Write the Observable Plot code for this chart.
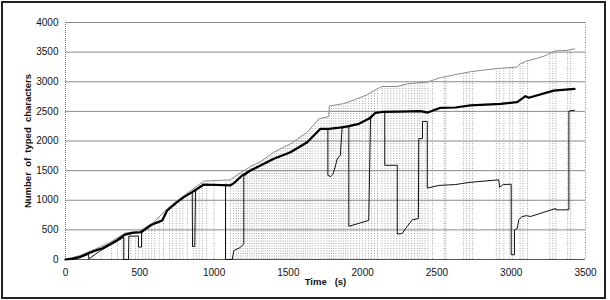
<!DOCTYPE html>
<html>
<head>
<meta charset="utf-8">
<script src="https://cdn.jsdelivr.net/npm/d3@7"></script>
<script src="https://cdn.jsdelivr.net/npm/@observablehq/plot@0.6"></script>
<style>
  html, body { margin: 0; padding: 0; background: #fff; }
  #wrap { position: relative; width: 610px; height: 300px; }
  #border { position: absolute; left: 1px; top: 1px; width: 601px; height: 294px; border: 2px solid #222; pointer-events: none; }
</style>
</head>
<body>
<div id="wrap"><div id="border"></div></div>
<script>
// Tick labels
const xTicks = [0, 500, 1000, 1500, 2000, 2500, 3000, 3500];
const yTicks = [0, 500, 1000, 1500, 2000, 2500, 3000, 3500, 4000];

// Series A: total typed characters (grey thin line)
const timeA = [0,100,200,300,400,500,600,684,800,931,1110,1133,1245,1312,1402,1514,1627,1705,1772,1776,1870,1950,2030,2086,2131,2232,2300,2435,2524,2726,2928,3040,3060,3096,3219,3298,3376,3426];
const valueA = [0,70,175,290,445,480,640,860,1085,1322,1345,1390,1570,1650,1811,1952,2149,2374,2413,2590,2630,2700,2780,2864,2920,2920,2965,2995,3070,3170,3229,3246,3303,3342,3430,3520,3530,3556];

// Series B: text length (thick black line)
const timeB = [0,50,100,150,200,250,300,350,400,450,505,530,572,600,651,684,751,796,852,931,1110,1133,1189,1245,1312,1402,1514,1627,1716,1772,1830,1907,1975,2041,2086,2130,2250,2389,2440,2490,2524,2624,2726,2928,3040,3096,3118,3286,3426];
const valueB = [0,15,45,100,150,190,260,330,420,450,460,500,574,610,658,827,967,1052,1137,1266,1250,1288,1418,1502,1587,1700,1811,1980,2206,2206,2220,2250,2290,2374,2475,2490,2495,2505,2480,2530,2560,2565,2600,2628,2655,2757,2729,2850,2881];

// Series C: cursor position (thin black line)
const timeC = [0,50,100,150,155,157,235,300,350,392,392,424,426,491,491,512,512,530,560,600,650,684,750,800,853,855,870,875,930,1077,1077,1122,1133,1178,1200,1200,1245,1312,1402,1514,1627,1716,1766,1766,1785,1800,1815,1829,1850,1862,1907,1907,2041,2053,2086,2149,2149,2233,2233,2266,2300,2334,2375,2378,2403,2403,2435,2435,2512,2624,2714,2916,2922,2947,3000,3000,3022,3022,3040,3051,3070,3100,3130,3298,3300,3388,3388,3426];
const valueC = [0,10,35,80,95,10,150,240,310,375,0,0,395,395,210,210,450,480,560,600,650,827,967,1052,1130,220,220,1160,1255,1250,0,0,150,205,265,1400,1495,1580,1695,1805,1975,2200,2200,1420,1400,1440,1560,1700,1760,2220,2245,560,660,2370,2475,2485,1590,1590,430,440,560,670,690,2040,2040,2330,2330,1205,1250,1265,1300,1345,1220,1266,1270,80,80,500,520,670,720,740,726,860,838,838,2505,2520];

// Times of cursor jumps / revisions (dotted verticals)
const revisionTimes = [180,240,310,350,380,400,440,470,490,520,540,560,580,600,630,660,700,720,745,770,790,820,860,880,900,920,950,1000,1080,1110,1130,1150,1165,1180,1195,1210,1225,1240,1255,1270,1285,1300,1318,1330,1345,1360,1375,1390,1405,1420,1435,1450,1465,1480,1495,1510,1525,1540,1555,1570,1585,1600,1615,1630,1645,1660,1680,1700,1720,1740,1760,1775,1790,1805,1820,1840,1855,1870,1885,1900,1920,1940,1960,1980,2000,2020,2040,2060,2080,2100,2130,2150,2170,2190,2210,2230,2250,2270,2290,2310,2330,2350,2370,2385,2400,2420,2440,2470,2550,2560,2680,2700,2720,2740,2900,2920,2950,2990,3010,3060,3080,3110,3260,3280,3300,3380,3400];

const A = timeA.map((t, i) => ({t, v: valueA[i]}));
const B = timeB.map((t, i) => ({t, v: valueB[i]}));
const C = timeC.map((t, i) => ({t, v: valueC[i]}));

// top of each dotted revision rule: the grey line at that moment
const topAt = t => {
  const i = d3.bisectRight(timeA, t);
  if (i <= 0) return valueA[0];
  if (i >= timeA.length) return valueA[valueA.length - 1];
  const t0 = timeA[i - 1], t1 = timeA[i];
  return valueA[i - 1] + (valueA[i] - valueA[i - 1]) * (t - t0) / (t1 - t0);
};
const R = revisionTimes.map(t => ({t, top: topAt(t)}));

const chart = Plot.plot({
  width: 610,
  height: 300,
  marginLeft: 65,
  marginRight: 25,
  marginTop: 22,
  marginBottom: 41,
  style: {fontFamily: "'Liberation Sans', Arial, sans-serif", fontSize: "10px", background: "transparent", color: "#111"},
  x: {domain: [0, 3500], ticks: xTicks, tickSize: 0, tickPadding: 9, label: null, tickFormat: d => String(d)},
  y: {domain: [0, 4000], ticks: yTicks, tickSize: 0, tickPadding: 7, label: null, tickFormat: d => String(d)},
  marks: [
    Plot.ruleY(yTicks.slice(1), {stroke: "#8a8a8a", strokeWidth: 1}),
    Plot.ruleX(R, {x: "t", y1: 0, y2: "top", stroke: "#8f8f8f", strokeWidth: 0.8, strokeDasharray: "1,1.5"}),
    Plot.ruleX([3500], {stroke: "#888", strokeDasharray: "1,1.5"}),
    Plot.ruleX([0], {stroke: "#777", strokeDasharray: "1,1"}),
    Plot.ruleY([0], {stroke: "#555"}),
    Plot.line(A, {x: "t", y: "v", stroke: "#8c8c8c", strokeWidth: 1}),
    Plot.line(C, {x: "t", y: "v", stroke: "#111", strokeWidth: 1, curve: "linear"}),
    Plot.line(B, {x: "t", y: "v", stroke: "#000", strokeWidth: 2.2}),
    Plot.axisX({ticks: xTicks, tickSize: 0, tickPadding: 9, label: null, tickFormat: d => String(d)}),
    Plot.axisY({ticks: yTicks, tickSize: 0, tickPadding: 7, label: null, tickFormat: d => String(d)}),
    Plot.text(["Number  of  typed  characters"], {frameAnchor: "left", dx: -38, rotate: -90, textAnchor: "middle", fontWeight: "bold", fontSize: 9.5, fill: "#111"}),
    Plot.text(["Time   (s)"], {frameAnchor: "bottom", dy: 25, textAnchor: "middle", fontWeight: "bold", fontSize: 9.5, fill: "#111"})
  ]
});
chart.style.position = "absolute";
chart.style.left = "0";
chart.style.top = "0";
document.getElementById("wrap").insertBefore(chart, document.getElementById("border"));
</script>
</body>
</html>
